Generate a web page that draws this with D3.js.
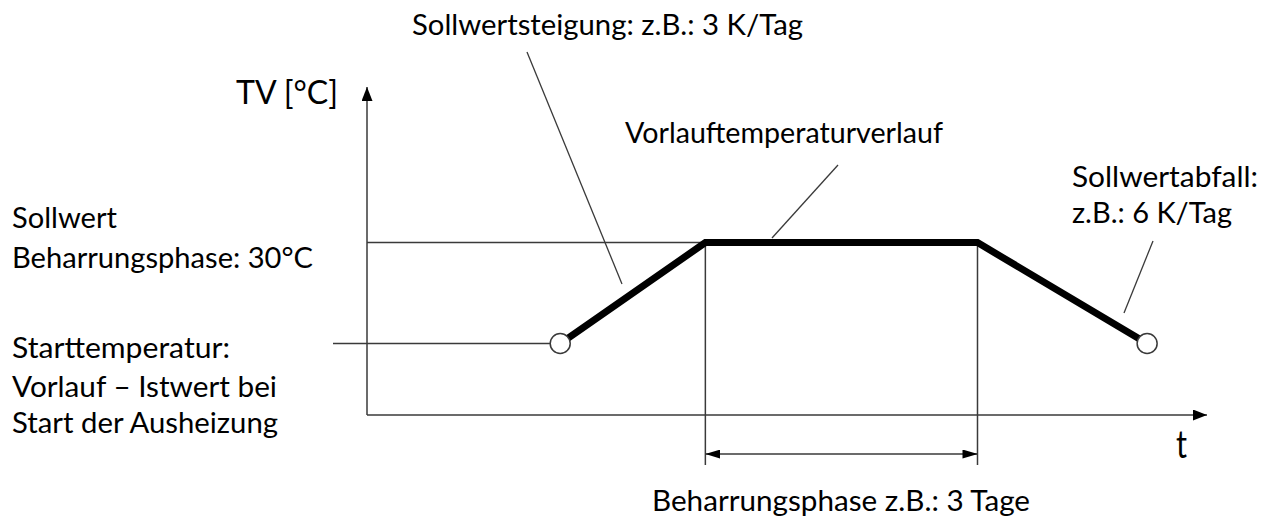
<!DOCTYPE html>
<html>
<head>
<meta charset="utf-8">
<script src="https://cdn.jsdelivr.net/npm/d3@7"></script>
<style>
  html, body { margin: 0; background: #fff; }
  svg { display: block; }
  text { font-family: Lato, "Open Sans", sans-serif; fill: #000; }
</style>
</head>
<body>
<svg id="chart" width="1267" height="520"></svg>
<script>
// Ausheizprofil: Zeit in Tagen, Vorlauftemperatur in °C
const phaseDays = [2.13, 3.73, 6.73, 8.60];   // Start, Beginn/Ende Beharrungsphase, Ende
const flowTempC = [25.2, 30, 30, 25.2];
const setpointC = 30;                          // Sollwert Beharrungsphase
const startTempC = 25.2;                       // Starttemperatur (Vorlauf-Istwert)
const holdPhaseDays = [3.73, 6.73];            // Beharrungsphase: 3 Tage
const axisDays = [0, 9.26];
const axisTempC = [21.8, 37.4];

// Beschriftungen
const labelTexts = {
  rise: "Sollwertsteigung: z.B.: 3 K/Tag",
  yAxis: "TV [°C]",
  xAxis: "t",
  curve: "Vorlauftemperaturverlauf",
  setpoint: ["Sollwert", "Beharrungsphase: 30°C"],
  fall: ["Sollwertabfall:", "z.B.: 6 K/Tag"],
  start: ["Starttemperatur:", "Vorlauf – Istwert bei", "Start der Ausheizung"],
  hold: "Beharrungsphase z.B.: 3 Tage"
};

const svg = d3.select("#chart");
const x = d3.scaleLinear().domain(axisDays).range([367, 1207]);
const y = d3.scaleLinear().domain(axisTempC).range([415, 87]);

const thin = "#3a3a3a";

// Pfeilspitzen
const defs = svg.append("defs");
function arrow(id, len, half) {
  defs.append("marker")
    .attr("id", id)
    .attr("markerUnits", "userSpaceOnUse")
    .attr("viewBox", `0 ${-half} ${len} ${2 * half}`)
    .attr("refX", len).attr("refY", 0)
    .attr("markerWidth", len).attr("markerHeight", 2 * half)
    .attr("orient", "auto-start-reverse")
    .append("path")
    .attr("d", `M0,${-half}L${len},0L0,${half}Z`)
    .attr("fill", "#000");
}
arrow("axisArrow", 14, 5.5);
arrow("dimArrow", 15, 4.5);

const g = svg.append("g");

// Achsen
g.append("line")
  .attr("x1", x(axisDays[0])).attr("y1", y(axisTempC[0]))
  .attr("x2", x(axisDays[1])).attr("y2", y(axisTempC[0]))
  .attr("stroke", thin).attr("stroke-width", 1.5)
  .attr("marker-end", "url(#axisArrow)");
g.append("line")
  .attr("x1", x(axisDays[0])).attr("y1", y(axisTempC[0]))
  .attr("x2", x(axisDays[0])).attr("y2", y(axisTempC[1]))
  .attr("stroke", thin).attr("stroke-width", 1.5)
  .attr("marker-end", "url(#axisArrow)");

// Hilfslinien: Sollwert und Starttemperatur
g.append("line")
  .attr("x1", x(axisDays[0])).attr("y1", y(setpointC))
  .attr("x2", x(holdPhaseDays[0])).attr("y2", y(setpointC))
  .attr("stroke", thin).attr("stroke-width", 1.5);
g.append("line")
  .attr("x1", x(axisDays[0]) - 34).attr("y1", y(startTempC))
  .attr("x2", x(phaseDays[0])).attr("y2", y(startTempC))
  .attr("stroke", thin).attr("stroke-width", 1.5);

// Begrenzung der Beharrungsphase mit Maßpfeil
const dimY = 454, dimBottom = 465;
holdPhaseDays.forEach(d => {
  g.append("line")
    .attr("x1", x(d)).attr("y1", y(setpointC))
    .attr("x2", x(d)).attr("y2", dimBottom)
    .attr("stroke", thin).attr("stroke-width", 1.5);
});
g.append("line")
  .attr("x1", x(holdPhaseDays[0])).attr("y1", dimY)
  .attr("x2", x(holdPhaseDays[1])).attr("y2", dimY)
  .attr("stroke", thin).attr("stroke-width", 1.5)
  .attr("marker-start", "url(#dimArrow)")
  .attr("marker-end", "url(#dimArrow)");

// Temperaturverlauf
const profile = phaseDays.map((d, i) => [d, flowTempC[i]]);
const line = d3.line().x(d => x(d[0])).y(d => y(d[1]));
g.append("path")
  .datum(profile)
  .attr("d", line)
  .attr("fill", "none")
  .attr("stroke", "#000")
  .attr("stroke-width", 7)
  .attr("stroke-linejoin", "miter");

// Start- und Endpunkt
g.selectAll("circle.endpoint")
  .data([profile[0], profile[profile.length - 1]])
  .join("circle")
  .attr("class", "endpoint")
  .attr("cx", d => x(d[0])).attr("cy", d => y(d[1]))
  .attr("r", 10)
  .attr("fill", "#fff")
  .attr("stroke", thin).attr("stroke-width", 1.5);

// Bezugslinien der Beschriftungen
const leaders = [
  [[527, 52], [622, 284]],
  [[838, 165], [772, 238]],
  [[1153, 241], [1124, 313]]
];
g.selectAll("line.leader")
  .data(leaders)
  .join("line")
  .attr("class", "leader")
  .attr("x1", d => d[0][0]).attr("y1", d => d[0][1])
  .attr("x2", d => d[1][0]).attr("y2", d => d[1][1])
  .attr("stroke", thin).attr("stroke-width", 1.3);

// Texte: [Text, links, Grundlinie, Breite, Schriftgröße]
const fs = 29.5;
const texts = [
  [labelTexts.rise, 412, 35, 391, fs],
  [labelTexts.yAxis, 236, 104, 102, 33],
  [labelTexts.xAxis, 1176, 458, 11, 38],
  [labelTexts.curve, 625, 143, 318, fs],
  [labelTexts.setpoint[0], 12, 228, 105, fs],
  [labelTexts.setpoint[1], 12, 268, 301, fs],
  [labelTexts.fall[0], 1072, 187, 186, fs],
  [labelTexts.fall[1], 1072, 223, 160, fs],
  [labelTexts.start[0], 12, 358, 218, fs],
  [labelTexts.start[1], 12, 397, 265, fs],
  [labelTexts.start[2], 12, 433, 266, fs],
  [labelTexts.hold, 652, 511, 378, fs]
];
svg.append("g")
  .selectAll("text")
  .data(texts)
  .join("text")
  .attr("x", d => d[1])
  .attr("y", d => d[2])
  .attr("textLength", d => d[3])
  .attr("lengthAdjust", "spacingAndGlyphs")
  .style("font-size", d => d[4] + "px")
  .text(d => d[0]);
</script>
</body>
</html>
